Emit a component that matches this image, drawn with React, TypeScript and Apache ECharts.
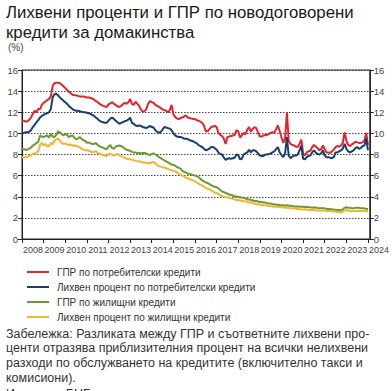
import React, { useEffect, useRef } from 'react';
import * as echarts from 'echarts';

const years = ['2008','2009','2010','2011','2012','2013','2014','2015','2016','2017','2018','2019','2020','2021','2022','2023','2024'];

const seriesNames = [
  'ГПР по потребителски кредити',
  'Лихвен процент по потребителски кредити',
  'ГПР по жилищни кредити',
  'Лихвен процент по жилищни кредити',
];
const seriesColors = ['#e2242c', '#173f72', '#6b9a33', '#f2b531'];

// monthly, Jan 2008 .. Jan 2024
const aprConsumer = [
  11.2, 11.2, 11.1, 11.15, 11.3, 11.5, 11.85, 12.15, 12.0, 12.3, 12.3, 12.7,
  12.9, 13.0, 13.15, 13.25, 13.5, 14.5, 14.75, 14.8, 14.8, 14.75, 14.6, 14.45,
  14.3, 14.1, 13.95, 13.8, 13.65, 13.6, 13.6, 13.55, 13.5, 13.5, 13.5, 13.45,
  13.4, 13.4, 13.35, 13.3, 13.2, 13.05, 12.95, 12.8, 12.7, 12.6, 12.55, 12.5,
  12.75, 12.85, 12.95, 12.8, 12.7, 12.55, 12.5, 12.6, 12.75, 12.9, 12.8, 12.95,
  13.25, 12.8, 12.7, 13.0, 12.8, 12.6, 12.25, 12.05, 12.1, 12.3, 12.8, 13.05,
  12.95, 12.9, 12.7, 12.6, 12.5, 12.4, 12.25, 12.2, 12.15, 12.0, 12.2, 12.7,
  11.8, 11.55, 11.4, 11.35, 11.45, 11.5, 11.6, 11.7, 11.5, 11.45, 11.4, 11.35,
  11.35, 11.25, 11.2, 11.1, 11.0, 10.7, 10.2, 10.2, 10.4, 10.6, 10.65, 10.7,
  10.6, 10.05, 9.85, 9.75, 9.5, 9.0, 9.65, 9.7, 9.75, 9.8, 9.85, 10.3,
  10.2, 9.6, 9.8, 10.05, 9.9, 10.35, 10.6, 10.15, 10.4, 10.6, 10.5, 10.1,
  9.7, 9.7, 9.8, 9.85, 9.85, 9.95, 10.05, 10.1, 10.05, 10.4, 10.75, 10.2,
  9.6, 9.1, 9.5, 12.0, 9.3, 9.0, 8.9, 8.85, 8.75, 8.7, 9.0, 9.4,
  8.1, 7.9, 8.2, 8.3, 8.35, 8.7, 8.9, 8.75, 8.6, 8.4, 8.5, 8.85,
  8.5, 8.2, 8.2, 8.15, 8.3, 8.45, 8.7, 8.8, 8.75, 8.85, 9.1, 10.1,
  9.3, 8.9, 8.8, 8.95, 9.05, 9.2, 9.15, 9.1, 9.1, 9.15, 9.3, 10.05,
  8.9,
];

const rateConsumer = [
  10.0, 10.05, 10.1, 10.1, 10.15, 10.3, 10.6, 10.8, 11.05, 11.25, 11.5, 11.65,
  11.75, 11.85, 11.9, 12.0, 12.3, 13.4, 13.7, 13.75, 13.6, 13.4, 13.25, 13.1,
  12.95, 12.8, 12.6, 12.45, 12.3, 12.2, 12.15, 12.15, 12.1, 12.05, 12.0, 12.0,
  11.95, 11.9, 11.85, 11.75, 11.65, 11.5, 11.35, 11.2, 11.1, 11.05, 11.0, 11.0,
  11.2, 11.4, 11.5, 11.35, 11.2, 11.05, 10.9, 11.0, 11.05, 11.15, 11.2, 11.3,
  11.5, 11.0, 10.9, 10.75, 10.7, 10.75, 10.7, 10.6, 10.55, 10.5, 10.6, 10.7,
  10.6, 10.55, 10.3, 10.15, 10.05, 10.15, 10.35, 10.6, 10.55, 10.5, 10.45, 10.3,
  10.0, 9.8, 9.7, 9.65, 9.65, 9.6, 9.5, 9.5, 9.45, 9.35, 9.3, 9.25,
  9.15, 9.05, 8.9, 8.8, 8.7, 8.55, 8.4, 8.45, 8.55, 8.7, 8.7, 8.6,
  8.45, 8.2, 8.05, 8.0, 7.7, 7.5, 7.6, 7.65, 7.6, 7.65, 7.7, 8.0,
  7.95, 7.55, 7.6, 8.0, 8.1, 8.2, 8.45, 8.2, 8.4, 8.4, 8.3, 8.1,
  7.9, 7.85, 7.85, 8.0, 8.0, 8.05, 8.1, 8.2, 8.3, 8.5, 8.7, 8.2,
  7.95, 7.75, 8.1, 9.65, 7.9, 7.65, 7.8, 7.9, 7.9, 8.0, 8.4, 8.85,
  7.6, 7.55, 7.75, 7.85, 7.9, 8.2, 8.4, 8.2, 8.05, 8.0, 8.1, 8.4,
  7.9, 7.75, 7.75, 7.7, 7.65, 7.75, 8.2, 8.2, 8.3, 8.4, 8.55, 9.0,
  8.55, 8.3, 8.2, 8.3, 8.4, 8.6, 8.7, 8.55, 8.6, 8.8, 8.85, 9.5,
  8.4,
];

const aprHousing = [
  8.55, 8.5, 8.45, 8.45, 8.55, 8.65, 8.85, 8.95, 9.1, 9.15, 9.8, 9.7,
  9.65, 9.75, 9.8, 9.6, 9.95, 9.7, 9.65, 9.85, 10.2, 10.1, 9.95, 9.8,
  9.95, 9.85, 9.65, 9.75, 9.8, 9.6, 9.45, 9.5, 9.65, 9.5, 9.35, 9.3,
  9.1, 9.15, 9.05, 9.0, 9.0, 9.1, 8.9, 8.8, 8.7, 8.65, 8.55, 8.5,
  8.75, 8.9, 8.6, 8.55, 8.75, 8.8, 8.85, 8.8, 8.7, 8.55, 8.45, 8.4,
  8.35, 8.25, 8.2, 8.2, 8.15, 8.15, 8.1, 8.15, 8.15, 8.1, 8.0, 7.95,
  8.05, 8.1, 8.0, 7.9, 7.75, 7.65, 7.55, 7.45, 7.35, 7.25, 7.15, 7.05,
  7.0, 6.95, 6.8, 6.75, 6.65, 6.45, 6.35, 6.3, 6.2, 6.15, 6.1, 6.05,
  6.0, 5.95, 5.85, 5.7, 5.55, 5.45, 5.35, 5.3, 5.2, 5.1, 5.0, 4.95,
  4.9, 4.8, 4.65, 4.5, 4.45, 4.35, 4.3, 4.2, 4.2, 4.1, 4.05, 4.0,
  4.0, 3.95, 3.9, 3.9, 3.85, 3.75, 3.75, 3.7, 3.65, 3.6, 3.6, 3.55,
  3.5, 3.5, 3.45, 3.45, 3.4, 3.35, 3.35, 3.3, 3.3, 3.25, 3.25, 3.2,
  3.2, 3.2, 3.15, 3.2, 3.15, 3.15, 3.1, 3.1, 3.05, 3.1, 3.05, 3.05,
  3.05, 3.0, 3.05, 3.0, 3.0, 2.95, 3.0, 2.95, 2.95, 2.9, 2.9, 2.9,
  2.9, 2.85, 2.85, 2.85, 2.8, 2.8, 2.75, 2.75, 2.75, 2.7, 2.8, 2.95,
  3.0, 2.95, 2.95, 2.9, 2.9, 2.95, 2.95, 2.95, 2.9, 2.9, 2.9, 2.85,
  2.85,
];

const rateHousing = [
  7.75, 7.75, 7.7, 7.8, 7.85, 7.95, 8.05, 8.1, 8.2, 8.3, 8.9, 9.1,
  8.85, 9.0, 8.75, 8.8, 9.1, 8.95, 9.3, 9.45, 9.5, 9.3, 9.1, 9.0,
  9.05, 8.95, 8.9, 8.95, 8.85, 8.8, 8.85, 8.75, 8.7, 8.55, 8.5, 8.4,
  8.4, 8.35, 8.3, 8.2, 8.25, 8.3, 8.15, 8.1, 8.0, 7.95, 7.9, 7.85,
  8.0, 8.1, 7.95, 7.9, 8.0, 8.05, 7.95, 7.85, 7.75, 7.7, 7.6, 7.55,
  7.55, 7.5, 7.45, 7.4, 7.35, 7.35, 7.3, 7.25, 7.25, 7.2, 7.2, 7.15,
  7.25, 7.3, 7.15, 7.0, 6.9, 6.85, 6.8, 6.75, 6.7, 6.65, 6.55, 6.5,
  6.45, 6.4, 6.3, 6.2, 6.1, 6.0, 5.9, 5.8, 5.75, 5.65, 5.6, 5.55,
  5.45, 5.35, 5.25, 5.15, 5.05, 4.95, 4.85, 4.75, 4.7, 4.6, 4.5, 4.4,
  4.35, 4.25, 4.15, 4.05, 4.0, 3.95, 3.95, 3.9, 3.85, 3.8, 3.75, 3.7,
  3.7, 3.65, 3.6, 3.6, 3.55, 3.5, 3.45, 3.45, 3.4, 3.35, 3.3, 3.3,
  3.25, 3.25, 3.2, 3.2, 3.15, 3.15, 3.1, 3.1, 3.05, 3.05, 3.05, 3.0,
  3.0, 3.0, 2.95, 2.95, 2.95, 2.9, 2.9, 2.9, 2.85, 2.85, 2.85, 2.8,
  2.8, 2.8, 2.8, 2.75, 2.75, 2.75, 2.75, 2.7, 2.7, 2.7, 2.7, 2.7,
  2.7, 2.65, 2.65, 2.65, 2.6, 2.6, 2.6, 2.55, 2.55, 2.5, 2.6, 2.7,
  2.75, 2.7, 2.65, 2.65, 2.65, 2.65, 2.7, 2.65, 2.65, 2.65, 2.65, 2.65,
  2.6,
];

const yTicks = { min: 0, max: 16, interval: 2 };

const titleLines = ['Лихвени проценти и ГПР по новодоговорени', 'кредити за домакинства'];
const unitLabel = '(%)';
const noteLines = [
  'Забележка: Разликата между ГПР и съответните лихвени про-',
  'центи отразява приблизителния процент на всички нелихвени',
  'разходи по обслужването на кредитите (включително такси и',
  'комисиони).',
];
const sourceLine = 'Източник: БНБ.';

const FONT = '"Liberation Sans", Arial, sans-serif';

export default function App() {
  const ref = useRef<HTMLDivElement>(null);
  useEffect(() => {
    if (!ref.current) return;
    const chart = echarts.init(ref.current, undefined, { renderer: 'svg' });
    const all = [aprConsumer, rateConsumer, aprHousing, rateHousing];
    const nPts = aprConsumer.length;

    const yAxisBase = (pos: 'left' | 'right') => ({
      type: 'value',
      position: pos,
      min: yTicks.min,
      max: yTicks.max,
      interval: yTicks.interval,
      axisLine: { show: true, lineStyle: { color: '#222', width: 1 } },
      axisTick: { show: true, length: 4, lineStyle: { color: '#222' } },
      axisLabel: { fontSize: 9.5, color: '#444', margin: 4, fontFamily: FONT },
      splitLine: pos === 'left'
        ? { show: true, lineStyle: { color: '#444', type: [1.5, 1.5], width: 1 } }
        : { show: false },
    });

    const graphicTexts: any[] = [];
    titleLines.forEach((t, i) => {
      graphicTexts.push({
        type: 'text', left: 6, top: 4 + i * 19.5,
        style: { text: t, font: `16.8px ${FONT}`, fill: '#1a1a1a' },
      });
    });
    graphicTexts.push({
      type: 'text', left: 8, top: 42,
      style: { text: unitLabel, font: `10px ${FONT}`, fill: '#444' },
    });
    noteLines.forEach((t, i) => {
      graphicTexts.push({
        type: 'text', left: 6, top: 327 + i * 14.8,
        style: { text: t, font: `12.5px ${FONT}`, fill: '#333' },
      });
    });
    graphicTexts.push({
      type: 'text', left: 6, top: 387,
      style: { text: sourceLine, font: `12.5px ${FONT}`, fill: '#333' },
    });

    chart.setOption({
      animation: false,
      backgroundColor: '#ffffff',
      grid: {
        left: 22, right: 18, top: 70, bottom: 152,
        show: true, borderColor: '#222', borderWidth: 1,
      },
      xAxis: {
        type: 'value',
        min: 0,
        max: nPts,
        interval: 12,
        axisLine: { show: true, lineStyle: { color: '#222' } },
        axisTick: { show: true, length: 4, lineStyle: { color: '#222' } },
        axisLabel: {
          fontSize: 9,
          color: '#444',
          margin: 6,
          fontFamily: FONT,
          padding: [0, 0, 0, 22],
          showMaxLabel: false,
          formatter: (v: number) => {
            const k = v / 12;
            return Number.isInteger(k) && k < years.length ? years[k] : '';
          },
        },
        splitLine: { show: false },
      },
      yAxis: [yAxisBase('left'), yAxisBase('right')],
      legend: {
        orient: 'vertical',
        left: 22,
        top: 261,
        itemWidth: 22,
        itemHeight: 2,
        itemGap: 3,
        icon: 'rect',
        data: seriesNames,
        textStyle: { fontSize: 10, color: '#333', lineHeight: 12, fontFamily: FONT, padding: [0, 0, 0, 3] },
      },
      series: seriesNames.map((name, si) => ({
        name,
        type: 'line',
        yAxisIndex: 0,
        showSymbol: false,
        symbol: 'none',
        color: seriesColors[si],
        lineStyle: { width: 2, color: seriesColors[si] },
        data: all[si].map((v, i) => [i, v]),
        z: 3,
      })),
      graphic: graphicTexts,
    });
    return () => chart.dispose();
  }, []);
  return (
    <div
      ref={ref}
      style={{ position: 'absolute', left: 0, top: 0, width: 392, height: 391, background: '#fff' }}
    />
  );
}
